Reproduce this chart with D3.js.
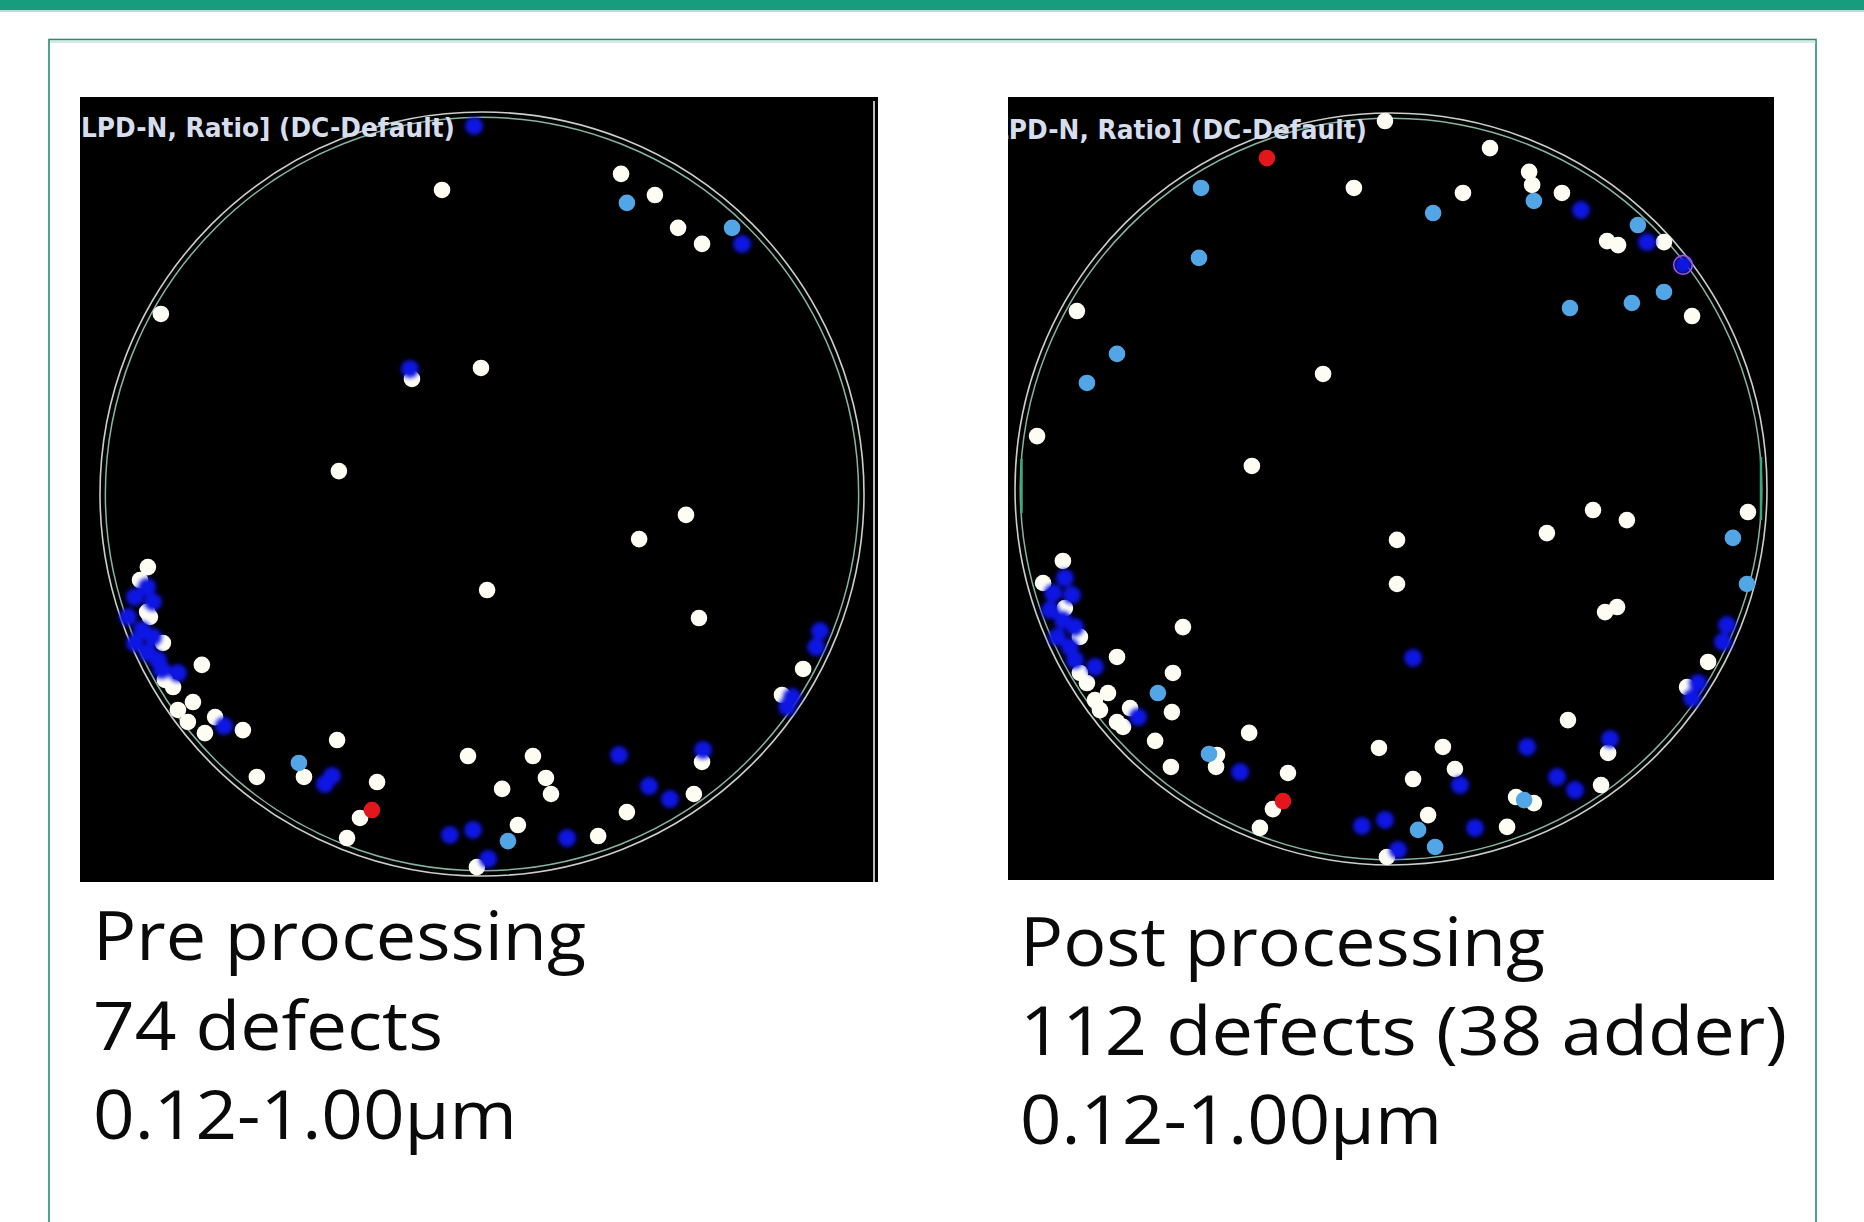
<!DOCTYPE html>
<html><head><meta charset="utf-8">
<script src="https://cdn.jsdelivr.net/npm/d3@7"></script>
<style>html,body{margin:0;padding:0;background:#fff;overflow:hidden}</style>
</head><body>
<svg id="c" width="1864" height="1222"></svg>
<script>
// Wafer coordinates in mm (300 mm wafer, centre = 0,0)
const waferRadius = 150;

const preWhite = [[-15.7,119.4],[-126.1,70.7],[-27.5,45.2],[-0.4,49.5],[-56.2,9.0],[54.6,125.7],[67.9,117.4],[77.0,104.5],[86.4,98.2],
 [-131.2,-28.7],[-134.3,-33.8],[-131.5,-46.3],[-130.4,-48.3],[-125.3,-58.5],[-110.0,-67.1],[-124.5,-73.0],[-121.3,-75.8],[-113.5,-81.7],
 [-119.4,-84.8],[-115.5,-89.5],[-104.8,-87.6],[-108.8,-93.9],[-93.9,-92.7],[-56.9,-96.6],[-5.5,-102.9],[-69.9,-111.1],[-88.4,-111.1],
 [-41.2,-113.1],[-47.9,-127.2],[-53.0,-135.1],[-2.0,-146.5],[2.0,-37.7],[80.1,-8.2],[61.7,-17.7],[85.2,-48.7],[126.1,-68.7],[117.8,-78.9],
 [20.0,-102.9],[86.4,-105.2],[25.1,-111.5],[27.1,-117.8],[7.9,-115.8],[83.2,-117.8],[56.9,-124.9],[14.1,-130.0],[45.6,-134.3]];
const preBlue = [[-3.1,144.5],[-28.3,49.1],[102.1,98.2],[-131.5,-36.5],[-136.3,-40.4],[-129.2,-42.4],[-139.0,-48.3],[-133.5,-53.4],
 [-129.2,-56.2],[-136.3,-58.5],[-131.2,-62.4],[-127.2,-65.2],[-125.7,-69.1],[-119.4,-70.3],[-101.3,-91.1],[-61.7,-113.9],[-58.9,-110.7],
 [-12.6,-133.9],[-3.5,-131.9],[2.4,-143.3],[132.7,-53.8],[131.2,-60.1],[121.7,-79.7],[119.8,-83.6],[53.8,-102.5],[86.8,-100.5],
 [65.6,-114.7],[73.8,-119.8],[33.4,-135.1]];
const preLight = [[56.9,114.3],[98.2,104.5],[-71.9,-105.6],[10.2,-136.3]];
const preRed = [[-43.2,-124.1]];

const postWhite = [[-2.4,146.8],[-14.8,120.1],[-125.3,71.0],[-27.1,45.9],[-141.2,21.1],[-55.5,9.2],[39.5,136.0],[55.1,126.5],[56.3,121.3],
 [28.7,118.1],[68.2,118.1],[86.2,98.9],[90.6,97.3],[108.9,98.5],[120.1,69.0],[2.4,-20.3],[2.4,-37.9],[-130.9,-28.7],[-138.8,-37.5],
 [-130.1,-47.5],[-124.1,-59.0],[-124.1,-73.4],[-121.3,-77.4],[-83.0,-55.1],[-109.3,-67.0],[-87.0,-73.4],[-112.9,-81.4],[-118.1,-84.2],
 [-116.1,-88.2],[-104.1,-87.4],[-87.4,-89.0],[-109.3,-93.0],[-106.9,-94.9],[-94.1,-100.5],[-56.6,-97.3],[-4.8,-103.3],[-69.4,-106.1],
 [-69.8,-110.9],[-87.8,-110.9],[-41.1,-113.3],[-47.1,-127.7],[-52.3,-135.2],[-1.6,-146.8],[62.2,-17.6],[80.6,-8.4],[94.1,-12.4],
 [142.4,-9.2],[85.4,-49.1],[90.2,-47.1],[126.5,-69.0],[118.1,-79.0],[70.6,-92.2],[86.6,-105.3],[20.7,-102.9],[25.5,-111.7],[8.8,-115.7],
 [83.8,-118.1],[49.9,-122.9],[57.0,-125.3],[14.8,-130.1],[46.3,-134.8]];
const postBlue = [[75.8,111.3],[102.1,98.5],[116.5,89.4],[-130.1,-35.5],[-134.8,-41.5],[-127.3,-42.3],[-136.0,-48.3],[-130.9,-52.3],
 [-126.1,-55.1],[-133.2,-59.0],[-128.1,-63.0],[-126.1,-68.2],[-118.1,-71.0],[-100.9,-91.0],[-60.2,-112.9],[-11.6,-134.4],[-2.4,-132.0],
 [2.8,-144.0],[134.0,-54.3],[132.4,-61.0],[122.5,-77.4],[120.1,-83.4],[8.8,-67.4],[54.3,-102.9],[87.4,-99.7],[27.5,-118.1],
 [66.2,-114.9],[73.4,-120.1],[33.5,-135.2]];
const postLight = [[-75.8,120.1],[-76.6,92.2],[-109.3,53.9],[-121.3,42.3],[57.0,114.9],[16.8,110.1],[98.5,105.3],[108.9,78.6],
 [96.1,74.2],[71.4,72.2],[-93.0,-81.4],[-72.6,-105.7],[136.4,-19.5],[142.0,-37.9],[53.1,-124.1],[10.8,-136.0],[17.6,-142.8]];
const postRed = [[-49.5,132.0],[-43.1,-124.5]];
const postFlagged = [[116.5,89.4]];

const mapLabel = "LPD-N, Ratio] (DC-Default)";
const preCaption = ["Pre processing", "74 defects", "0.12-1.00\u00b5m"];
const postCaption = ["Post processing", "112 defects (38 adder)", "0.12-1.00\u00b5m"];

// ---------- layout ----------
const svg = d3.select("#c");
const defs = svg.append("defs");
defs.append("filter").attr("id","blurB").attr("x","-50%").attr("y","-50%").attr("width","200%").attr("height","200%")
  .append("feGaussianBlur").attr("stdDeviation",2.0);
defs.append("filter").attr("id","blurW").attr("x","-50%").attr("y","-50%").attr("width","200%").attr("height","200%")
  .append("feGaussianBlur").attr("stdDeviation",0.7);

// top bar + frame
svg.append("rect").attr("x",0).attr("y",0).attr("width",1864).attr("height",10).attr("fill","#179c7d");
svg.append("line").attr("x1",0).attr("x2",1864).attr("y1",11).attr("y2",11).attr("stroke","#9fd6c6").attr("stroke-width",1.5);
svg.append("rect").attr("x",49).attr("y",39.5).attr("width",1767).attr("height",1300)
  .attr("fill","none").attr("stroke","#2a8c72").attr("stroke-width",1.6);
svg.append("line").attr("x1",50).attr("x2",1816).attr("y1",42).attr("y2",42).attr("stroke","#a6d8ca").attr("stroke-width",1.2);

const panels = [
  {id:"pre", box:[80,97,878,882], cx:482, cy:494, R:382, white:preWhite, blue:preBlue, light:preLight, red:preRed, flagged:[],
   labelX:81, labelY:137, caption:preCaption, capX:93, capY:[960,1050,1139], capW:[493,350,424], edgeLine:874},
  {id:"post", box:[1008,97,1774,880], cx:1391, cy:489, R:376, white:postWhite, blue:postBlue, light:postLight, red:postRed, flagged:postFlagged,
   labelX:993, labelY:139, caption:postCaption, capX:1020, capY:[966,1055,1144], capW:[525,767,422], greenMarks:true}
];

const dotR = 8.3;

panels.forEach(p => {
  const [x0,y0,x1,y1] = p.box;
  const x = d3.scaleLinear().domain([-waferRadius, waferRadius]).range([p.cx - p.R, p.cx + p.R]);
  const y = d3.scaleLinear().domain([-waferRadius, waferRadius]).range([p.cy + p.R, p.cy - p.R]);
  const rad = v => x(v) - x(0);

  defs.append("clipPath").attr("id","clip-"+p.id).append("rect")
    .attr("x",x0).attr("y",y0).attr("width",x1-x0).attr("height",y1-y0);

  const g = svg.append("g").attr("clip-path","url(#clip-"+p.id+")");
  g.append("rect").attr("x",x0).attr("y",y0).attr("width",x1-x0).attr("height",y1-y0).attr("fill","#000");

  // wafer outline (double line)
  g.append("circle").attr("cx",x(0)).attr("cy",y(0)).attr("r",rad(waferRadius))
    .attr("fill","none").attr("stroke","#c9cfcb").attr("stroke-width",1.6);
  g.append("circle").attr("cx",x(0)).attr("cy",y(0)).attr("r",rad(waferRadius-2.1))
    .attr("fill","none").attr("stroke","#86b4a2").attr("stroke-width",1.5);

  if (p.greenMarks) {
    [[-147.4,12,-9.6],[147.6,12.8,-12.4]].forEach(m => {
      g.append("line").attr("x1",x(m[0])).attr("x2",x(m[0])).attr("y1",y(m[1])).attr("y2",y(m[2]))
        .attr("stroke","#3fa57a").attr("stroke-width",2.5);
    });
  }

  // label
  g.append("text").attr("x",p.labelX).attr("y",p.labelY).text(mapLabel)
    .attr("font-family","'DejaVu Sans Condensed','DejaVu Sans',sans-serif").attr("font-weight","bold")
    .attr("font-size",26).attr("fill","#d6deee")
    .attr("textLength",374).attr("lengthAdjust","spacingAndGlyphs");

  const drawDots = (data, color, filter, r) => {
    g.append("g").attr("filter","url(#"+filter+")").selectAll("circle").data(data).join("circle")
      .attr("cx",d=>x(d[0])).attr("cy",d=>y(d[1])).attr("r",r).attr("fill",color);
  };
  drawDots(p.white, "#fdfdf4", "blurW", dotR);
  drawDots(p.blue, "#0c14e4", "blurB", dotR + 0.7);
  drawDots(p.light, "#52a6e6", "blurW", dotR);
  drawDots(p.red, "#e3141c", "blurW", dotR);
  g.selectAll("circle.flag").data(p.flagged).join("circle").attr("class","flag")
    .attr("cx",d=>x(d[0])).attr("cy",d=>y(d[1])).attr("r",dotR+1).attr("fill","none")
    .attr("stroke","#a45cc8").attr("stroke-width",1.5);

  if (p.edgeLine) {
    svg.append("line").attr("x1",p.edgeLine).attr("x2",p.edgeLine).attr("y1",101).attr("y2",882)
      .attr("stroke","#bdbdbd").attr("stroke-width",2);
  }

  // caption
  p.caption.forEach((t,i) => {
    svg.append("text").attr("x",p.capX).attr("y",p.capY[i]).text(t)
      .attr("font-family","'Open Sans','Noto Sans',sans-serif").attr("font-size",67).attr("fill","#0a0a0a")
      .attr("textLength",p.capW[i]).attr("lengthAdjust","spacingAndGlyphs");
  });
});
</script>
</body></html>
